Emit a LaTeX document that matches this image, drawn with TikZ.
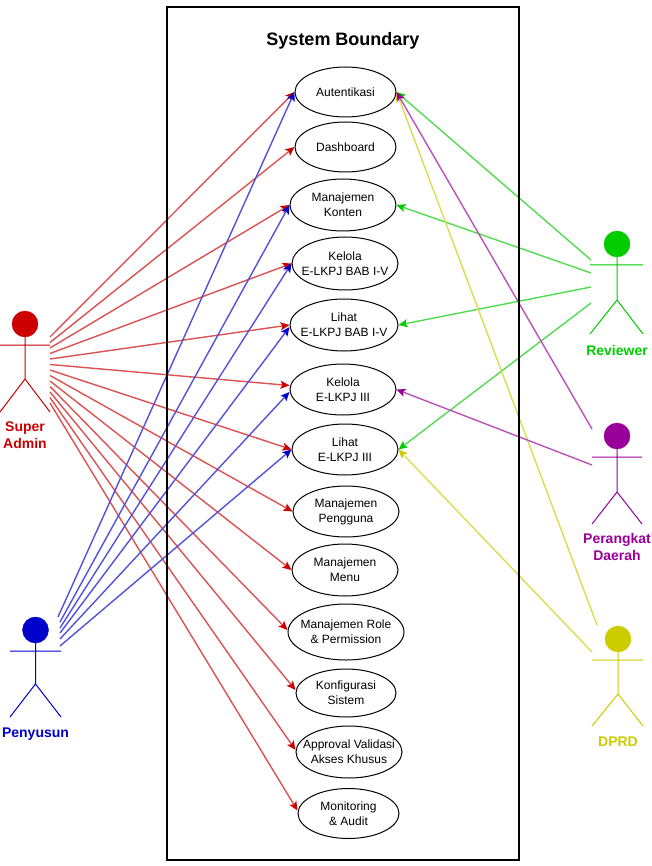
\documentclass[tikz,border=0pt]{standalone}
\usepackage{fontspec}
\setmainfont{Liberation Sans}
\usetikzlibrary{shapes.geometric,arrows.meta}
\definecolor{cRed}{HTML}{CC0000}
\definecolor{cBlue}{HTML}{0000CC}
\definecolor{cGreen}{HTML}{00CC00}
\definecolor{cPurple}{HTML}{990099}
\definecolor{cYellow}{HTML}{CCCC00}
\tikzset{
  usecase/.style={draw=black,fill=white,ellipse,line width=1pt,inner sep=-28pt,align=center,font=\fontsize{12}{15}\selectfont},
  head/.style={circle,inner sep=0pt,minimum size=26pt,fill=#1,draw=#1},
  limb/.style={draw=#1,line width=1pt},
  actorlabel/.style={text=#1,align=center,font=\fontsize{14}{17}\selectfont\bfseries,inner sep=0pt},
  assoc/.style={draw=#1!68,line width=1.4pt,-{Stealth[color=#1,length=9pt,width=8pt,inset=2pt]}},
}
\begin{document}
\begin{tikzpicture}[x=1pt,y=-1pt]
\useasboundingbox (0,0) rectangle (651,866);
\fill[white] (0,0) rectangle (651,866);
% use cases
\node[usecase,minimum width=101pt,minimum height=50pt] (u1) at (345.5,92) {Autentikasi};
\node[usecase,minimum width=101pt,minimum height=50pt] (u2) at (345.5,147) {Dashboard};
\node[usecase,minimum width=106pt,minimum height=52pt] (u3) at (343,205) {Manajemen\\Konten};
\node[usecase,minimum width=106pt,minimum height=53pt] (u4) at (345,263.5) {Kelola\\E-LKPJ BAB I-V};
\node[usecase,minimum width=108pt,minimum height=52pt] (u5) at (344,325) {Lihat\\E-LKPJ BAB I-V};
\node[usecase,minimum width=106pt,minimum height=51pt] (u6) at (343,389.5) {Kelola\\E-LKPJ III};
\node[usecase,minimum width=106pt,minimum height=51pt] (u7) at (345,449.5) {Lihat\\E-LKPJ III};
\node[usecase,minimum width=106pt,minimum height=51pt] (u8) at (346,511.5) {Manajemen\\Pengguna};
\node[usecase,minimum width=106pt,minimum height=52pt] (u9) at (345,570) {Manajemen\\Menu};
\node[usecase,minimum width=116pt,minimum height=56pt] (u10) at (346,632) {Manajemen Role\\\& Permission};
\node[usecase,minimum width=100pt,minimum height=48pt] (u11) at (346,693) {Konfigurasi\\Sistem};
\node[usecase,minimum width=106pt,minimum height=52pt] (u12) at (349,752) {Approval Validasi\\Akses Khusus};
\node[usecase,minimum width=101pt,minimum height=50pt] (u13) at (348.5,813.5) {Monitoring\\\& Audit};
% Super Admin
\node[head=cRed] (saHead) at (25,324) {};
\coordinate (saHip) at (25,379);
\coordinate (saArmL) at (0,345);
\coordinate (saArmR) at (50,345);
\coordinate (saLegL) at (0,412);
\coordinate (saLegR) at (50,412);
\draw[limb=cRed] (saHead.south) -- (saHip) (saArmL) -- (saArmR) (saLegL) -- (saHip) -- (saLegR);
\node[actorlabel=cRed] (saLabel) at (25,435.5) {Super\\Admin};
% Penyusun
\node[head=cBlue] (pyHead) at (35.5,630) {};
\coordinate (pyHip) at (35.5,684);
\coordinate (pyArmL) at (10,651);
\coordinate (pyArmR) at (61,651);
\coordinate (pyLegL) at (10,717);
\coordinate (pyLegR) at (61,717);
\draw[limb=cBlue] (pyHead.south) -- (pyHip) (pyArmL) -- (pyArmR) (pyLegL) -- (pyHip) -- (pyLegR);
\node[actorlabel=cBlue] (pyLabel) at (35.5,734) {Penyusun};
% Reviewer
\node[head=cGreen] (rvHead) at (617,244) {};
\coordinate (rvHip) at (617,300);
\coordinate (rvArmL) at (590,265);
\coordinate (rvArmR) at (643,265);
\coordinate (rvLegL) at (590,334);
\coordinate (rvLegR) at (643,334);
\draw[limb=cGreen] (rvHead.south) -- (rvHip) (rvArmL) -- (rvArmR) (rvLegL) -- (rvHip) -- (rvLegR);
\node[actorlabel=cGreen] (rvLabel) at (617,350) {Reviewer};
% Perangkat Daerah
\node[head=cPurple] (pdHead) at (617,436) {};
\coordinate (pdHip) at (617,492);
\coordinate (pdArmL) at (592,457);
\coordinate (pdArmR) at (642,457);
\coordinate (pdLegL) at (592,524);
\coordinate (pdLegR) at (642,524);
\draw[limb=cPurple] (pdHead.south) -- (pdHip) (pdArmL) -- (pdArmR) (pdLegL) -- (pdHip) -- (pdLegR);
\node[actorlabel=cPurple] (pdLabel) at (617,546.5) {Perangkat\\Daerah};
% DPRD
\node[head=cYellow] (dpHead) at (618,639) {};
\coordinate (dpHip) at (618,694);
\coordinate (dpArmL) at (592,660);
\coordinate (dpArmR) at (643,660);
\coordinate (dpLegL) at (592,726);
\coordinate (dpLegR) at (643,726);
\draw[limb=cYellow] (dpHead.south) -- (dpHip) (dpArmL) -- (dpArmR) (dpLegL) -- (dpHip) -- (dpLegR);
\node[actorlabel=cYellow] (dpLabel) at (618,741.5) {DPRD};
% ports on the actors
\foreach \i in {1,...,13} \coordinate (sa\i) at (50,{337+(\i-1)*5.5});
\coordinate (py1) at (58,617);
\coordinate (py2) at (60,622);
\coordinate (py3) at (60,628);
\coordinate (py4) at (60,633);
\coordinate (py5) at (60,639);
\coordinate (py6) at (60,646);
\coordinate (rv1) at (591,260);
\coordinate (rv2) at (591,273);
\coordinate (rv3) at (591,287);
\coordinate (rv4) at (591,303);
\coordinate (pd1) at (592,429);
\coordinate (pd2) at (592,465);
\coordinate (dp1) at (597,625);
\coordinate (dp2) at (592,652);
% connectors
\foreach \i/\d in {1/0,2/0,3/0,4/0,5/0,6/4,7/0,8/0,9/0,10/2,11/3,12/2,13/3}
  \draw[assoc=cRed] (sa\i) -- ([yshift=\d pt]u\i.west);
\draw[assoc=cBlue] (py1) -- (u1.west);
\draw[assoc=cBlue] (py2) -- (u3.west);
\draw[assoc=cBlue] (py3) -- (u4.west);
\draw[assoc=cBlue] (py4) -- ([yshift=-2pt]u5.west);
\draw[assoc=cBlue] (py5) -- ([yshift=-2.5pt]u6.west);
\draw[assoc=cBlue] (py6) -- (u7.west);
\draw[assoc=cGreen] (rv1) -- (u1.east);
\draw[assoc=cGreen] (rv2) -- (u3.east);
\draw[assoc=cGreen] (rv3) -- (u5.east);
\draw[assoc=cGreen] (rv4) -- (u7.east);
\draw[assoc=cYellow] (dp1) -- (u1.east);
\draw[assoc=cYellow] (dp2) -- (u7.east);
\draw[assoc=cPurple] (pd1) -- (u1.east);
\draw[assoc=cPurple] (pd2) -- (u6.east);
% boundary
\node[draw=black,line width=2pt,minimum width=352pt,minimum height=853pt,inner sep=0pt] (boundary) at (343,433.5) {};
\node[font=\fontsize{18}{21}\selectfont\bfseries,inner sep=0pt] (title) at (343,40.5) {System Boundary};
\end{tikzpicture}
\end{document}
